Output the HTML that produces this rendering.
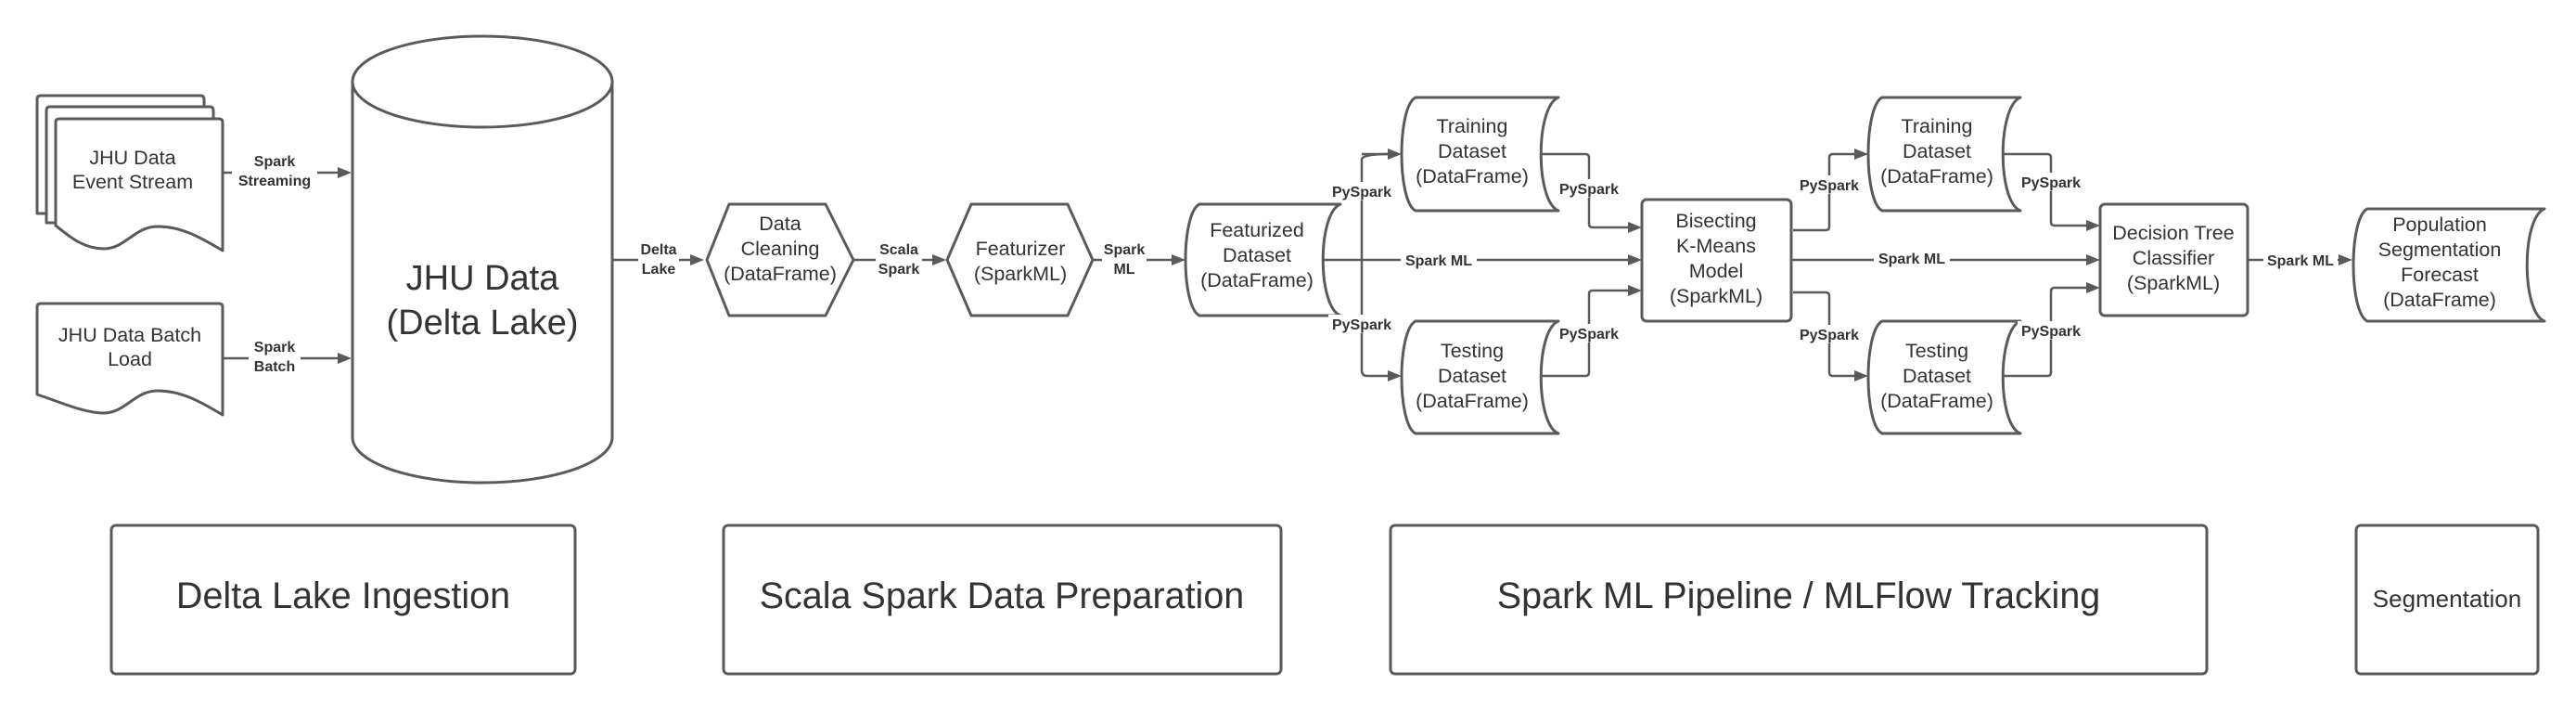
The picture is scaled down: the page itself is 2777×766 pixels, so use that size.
<!DOCTYPE html>
<html><head><meta charset="utf-8"><style>
html,body{margin:0;padding:0;background:#fff;}
svg{display:block;}
text{font-family:"Liberation Sans",sans-serif;fill:#333;}
.n{font-size:21.5px;text-anchor:middle;}
.l{font-size:16px;font-weight:bold;text-anchor:middle;}
.s{fill:#fff;stroke:#5a5a5a;stroke-width:3;stroke-linejoin:round;}
.c{fill:none;stroke:#5a5a5a;stroke-width:2.5;stroke-linejoin:round;}
.bg{fill:#fff;}
</style></head><body>
<svg width="2777" height="766" viewBox="0 0 2777 766" xmlns="http://www.w3.org/2000/svg">
<path class="s" d="M40,107 Q40,103 44,103 H216 Q220,103 220,107 V230 H40 V220 Z"/>
<path class="s" d="M50,119 Q50,115 54,115 H226 Q230,115 230,119 V240 H50 V232 Z"/>
<path class="s" d="M60,132 Q60,128 64,128 H236 Q240,128 240,132 V270 C215,255 195,244 170,244 C145,244 135,268 112,268 C90,268 75,255 60,243 Z"/>
<text class="n" x="143" y="177">JHU Data</text>
<text class="n" x="143" y="203">Event Stream</text>
<path class="s" d="M40,331 Q40,327 44,327 H236 Q240,327 240,331 V447 C215,432 195,421 170,421 C145,421 135,445 112,445 C90,445 65,433 40,425 Z"/>
<text class="n" x="140" y="368">JHU Data Batch</text>
<text class="n" x="140" y="394">Load</text>
<path class="s" d="M380,88 A140,49 0 0 1 660,88 V471 A140,49 0 0 1 380,471 Z"/>
<path class="c" style="stroke-width:3" d="M380,88 A140,49 0 0 0 660,88"/>
<text x="520" y="312" style="font-size:38px;text-anchor:middle">JHU Data</text>
<text x="520" y="360" style="font-size:38px;text-anchor:middle">(Delta Lake)</text>
<path class="c" d="M240,186 H365"/><path fill="#5a5a5a" d="M364,180 L379,186 L364,192 Z"/>
<path class="c" d="M240,386 H365"/><path fill="#5a5a5a" d="M364,380 L379,386 L364,392 Z"/>
<rect class="bg" x="250" y="160" width="92" height="44"/>
<text class="l" x="296" y="179">Spark</text><text class="l" x="296" y="200">Streaming</text>
<rect class="bg" x="268" y="360" width="56" height="44"/>
<text class="l" x="296" y="379">Spark</text><text class="l" x="296" y="400">Batch</text>
<path class="c" d="M660,280 H745"/><path fill="#5a5a5a" d="M744,274 L759,280 L744,286 Z"/>
<rect class="bg" x="688" y="256" width="44" height="44"/>
<text class="l" x="710" y="274">Delta</text><text class="l" x="710" y="295">Lake</text>
<path class="s" d="M786,220 H890 L920,280 L890,340 H786 L762,280 Z"/>
<text class="n" x="841" y="248">Data</text><text class="n" x="841" y="275">Cleaning</text><text class="n" x="841" y="302">(DataFrame)</text>
<path class="c" d="M920,280 H1005"/><path fill="#5a5a5a" d="M1005,274 L1020,280 L1005,286 Z"/>
<rect class="bg" x="944" y="256" width="50" height="44"/>
<text class="l" x="969" y="274">Scala</text><text class="l" x="969" y="295">Spark</text>
<path class="s" d="M1047,220 H1151 L1178,280 L1151,340 H1047 L1021,280 Z"/>
<text class="n" x="1100" y="275">Featurizer</text><text class="n" x="1100" y="302">(SparkML)</text>
<path class="c" d="M1178,280 H1264"/><path fill="#5a5a5a" d="M1263,274 L1278,280 L1263,286 Z"/>
<rect class="bg" x="1188" y="256" width="48" height="44"/>
<text class="l" x="1212" y="274">Spark</text><text class="l" x="1212" y="295">ML</text>
<path class="s" d="M1293,220 H1445 C1420,230 1420,330 1445,340 H1293 C1273,330 1273,230 1293,220 Z"/>
<text class="n" x="1355" y="255">Featurized</text><text class="n" x="1355" y="282">Dataset</text><text class="n" x="1355" y="309">(DataFrame)</text>
<path class="c" d="M1426,280 H1755"/><path fill="#5a5a5a" d="M1755,274 L1770,280 L1755,286 Z"/>
<path class="c" d="M1497,166 Q1468,166 1468,172 V399 Q1468,405 1474,405 H1497"/>
<path class="c" d="M1468,166 H1497"/><path fill="#5a5a5a" d="M1496,160 L1511,166 L1496,172 Z"/>
<path fill="#5a5a5a" d="M1496,399 L1511,405 L1496,411 Z"/>
<rect class="bg" x="1432" y="196" width="72" height="20"/><text class="l" x="1468" y="212">PySpark</text>
<rect class="bg" x="1432" y="339" width="72" height="20"/><text class="l" x="1468" y="355">PySpark</text>
<rect class="bg" x="1510" y="270" width="82" height="20"/><text class="l" x="1551" y="286">Spark ML</text>
<path class="s" d="M1526,105 H1680 C1655,115 1655,217 1680,227 H1526 C1506,217 1506,115 1526,105 Z"/>
<text class="n" x="1587" y="143">Training</text><text class="n" x="1587" y="170">Dataset</text><text class="n" x="1587" y="197">(DataFrame)</text>
<path class="s" d="M1526,346 H1680 C1655,356 1655,457 1680,467 H1526 C1506,457 1506,356 1526,346 Z"/>
<text class="n" x="1587" y="385">Testing</text><text class="n" x="1587" y="412">Dataset</text><text class="n" x="1587" y="439">(DataFrame)</text>
<path class="c" d="M1661,166 H1709 Q1713,166 1713,170 V241 Q1713,245 1717,245 H1756"/><path fill="#5a5a5a" d="M1755,239 L1770,245 L1755,251 Z"/>
<path class="c" d="M1661,405 H1709 Q1713,405 1713,401 V317 Q1713,313 1717,313 H1756"/><path fill="#5a5a5a" d="M1755,307 L1770,313 L1755,319 Z"/>
<rect class="bg" x="1677" y="193" width="72" height="20"/><text class="l" x="1713" y="209">PySpark</text>
<rect class="bg" x="1677" y="349" width="72" height="20"/><text class="l" x="1713" y="365">PySpark</text>
<rect class="s" x="1770" y="215" width="161" height="131" rx="5"/>
<text class="n" x="1850" y="245">Bisecting</text><text class="n" x="1850" y="272">K-Means</text><text class="n" x="1850" y="299">Model</text><text class="n" x="1850" y="326">(SparkML)</text>
<path class="c" d="M1931,280 H2250"/><path fill="#5a5a5a" d="M2249,274 L2264,280 L2249,286 Z"/>
<rect class="bg" x="2020" y="268" width="82" height="20"/><text class="l" x="2061" y="284">Spark ML</text>
<path class="c" d="M1933,248 H1968 Q1972,248 1972,244 V170 Q1972,166 1976,166 H1999"/><path fill="#5a5a5a" d="M1999,160 L2014,166 L1999,172 Z"/>
<path class="c" d="M1933,315 H1968 Q1972,315 1972,319 V401 Q1972,405 1976,405 H1999"/><path fill="#5a5a5a" d="M1999,399 L2014,405 L1999,411 Z"/>
<rect class="bg" x="1936" y="189" width="72" height="20"/><text class="l" x="1972" y="205">PySpark</text>
<rect class="bg" x="1936" y="350" width="72" height="20"/><text class="l" x="1972" y="366">PySpark</text>
<path class="s" d="M2029,105 H2178 C2153,115 2153,217 2178,227 H2029 C2009,217 2009,115 2029,105 Z"/>
<text class="n" x="2088" y="143">Training</text><text class="n" x="2088" y="170">Dataset</text><text class="n" x="2088" y="197">(DataFrame)</text>
<path class="s" d="M2029,346 H2178 C2153,356 2153,457 2178,467 H2029 C2009,457 2009,356 2029,346 Z"/>
<text class="n" x="2088" y="385">Testing</text><text class="n" x="2088" y="412">Dataset</text><text class="n" x="2088" y="439">(DataFrame)</text>
<path class="c" d="M2159,166 H2207 Q2211,166 2211,170 V239 Q2211,243 2215,243 H2250"/><path fill="#5a5a5a" d="M2249,237 L2264,243 L2249,249 Z"/>
<path class="c" d="M2159,405 H2207 Q2211,405 2211,401 V314 Q2211,310 2215,310 H2250"/><path fill="#5a5a5a" d="M2249,304 L2264,310 L2249,316 Z"/>
<rect class="bg" x="2175" y="186" width="72" height="20"/><text class="l" x="2211" y="202">PySpark</text>
<rect class="bg" x="2175" y="346" width="72" height="20"/><text class="l" x="2211" y="362">PySpark</text>
<rect class="s" x="2264" y="220" width="159" height="120" rx="5"/>
<text class="n" x="2343" y="258">Decision Tree</text><text class="n" x="2343" y="285">Classifier</text><text class="n" x="2343" y="312">(SparkML)</text>
<path class="c" d="M2423,280 H2522"/><path fill="#5a5a5a" d="M2521,274 L2536,280 L2521,286 Z"/>
<rect class="bg" x="2440" y="270" width="80" height="20"/><text class="l" x="2480" y="286">Spark ML</text>
<path class="s" d="M2552,225 H2743 C2718,235 2718,336 2743,346 H2552 C2532,336 2532,235 2552,225 Z"/>
<text class="n" x="2630" y="249">Population</text><text class="n" x="2630" y="276">Segmentation</text><text class="n" x="2630" y="303">Forecast</text><text class="n" x="2630" y="330">(DataFrame)</text>
<rect class="s" x="120" y="566" width="500" height="160" rx="5"/>
<text x="370" y="655" style="font-size:39.5px;text-anchor:middle">Delta Lake Ingestion</text>
<rect class="s" x="780" y="566" width="601" height="160" rx="5"/>
<text x="1080" y="655" style="font-size:39.5px;text-anchor:middle">Scala Spark Data Preparation</text>
<rect class="s" x="1499" y="566" width="880" height="160" rx="5"/>
<text x="1939" y="655" style="font-size:39.5px;text-anchor:middle">Spark ML Pipeline / MLFlow Tracking</text>
<rect class="s" x="2540" y="566" width="196" height="160" rx="5"/>
<text x="2638" y="654" style="font-size:26px;text-anchor:middle">Segmentation</text>
</svg>
</body></html>
